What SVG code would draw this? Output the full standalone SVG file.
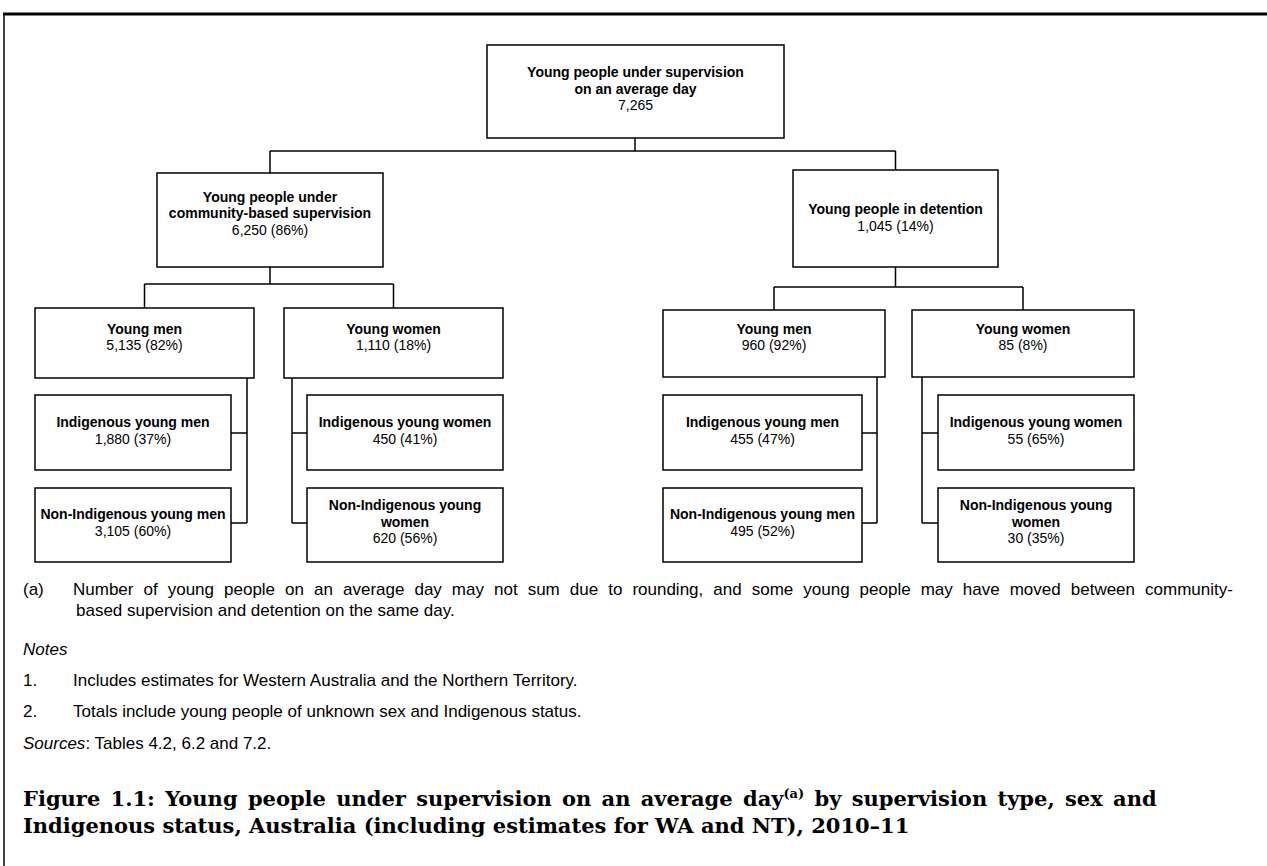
<svg xmlns="http://www.w3.org/2000/svg" width="1267" height="866" viewBox="0 0 1267 866">
<style>
.box{fill:#fff;stroke:#000;stroke-width:1.5}
.t{font-family:"Liberation Sans",Arial,sans-serif;font-size:14px;text-anchor:middle;fill:#000}
.b{font-weight:bold}
.c{fill:none;stroke:#000;stroke-width:1.5}
.n{font-family:"Liberation Sans",Arial,sans-serif;font-size:17px;fill:#000}
.i{font-style:italic}
.cap{font-family:"DejaVu Serif","Liberation Serif",serif;font-weight:bold;font-size:21px;fill:#000}
</style>
<rect width="1267" height="866" fill="#fff"/>
<g id="frame">
<line x1="3" y1="14" x2="1267" y2="14" stroke="#000" stroke-width="3"/>
<line x1="4" y1="13" x2="4" y2="866" stroke="#000" stroke-width="1.5"/>
</g>
<g id="connectors">
<path class="c" d="M635 138V151M270 151H895.5M270 151V173M895.5 151V170"/>
<path class="c" d="M270 267V284M144.5 284H393.5M144.5 284V308M393.5 284V308"/>
<path class="c" d="M895.5 267V287M774 287H1023M774 287V310M1023 287V310"/>
<path class="c" d="M247 378V523M231 433H247M231 523H247"/>
<path class="c" d="M292 378V523M292 433H307M292 523H307"/>
<path class="c" d="M877 377V523M862 433H877M862 523H877"/>
<path class="c" d="M922 377V523M922 433H938M922 523H938"/>
</g>
<g id="n-total">
<rect class="box" x="487" y="45" width="297" height="93"/>
<text class="t b" x="635.5" y="77">Young people under supervision</text>
<text class="t b" x="635.5" y="94">on an average day</text>
<text class="t" x="635.5" y="110">7,265</text>
</g>
<g id="n-community">
<rect class="box" x="157" y="173" width="226" height="94"/>
<text class="t b" x="270" y="202">Young people under</text>
<text class="t b" x="270" y="218">community-based supervision</text>
<text class="t" x="270" y="235">6,250 (86%)</text>
</g>
<g id="n-detention">
<rect class="box" x="793" y="170" width="205" height="97"/>
<text class="t b" x="895.5" y="214">Young people in detention</text>
<text class="t" x="895.5" y="231">1,045 (14%)</text>
</g>
<g id="n-cm">
<rect class="box" x="35" y="308" width="219" height="70"/>
<text class="t b" x="144.5" y="334">Young men</text>
<text class="t" x="144.5" y="350">5,135 (82%)</text>
</g>
<g id="n-cw">
<rect class="box" x="284" y="308" width="219" height="70"/>
<text class="t b" x="393.5" y="334">Young women</text>
<text class="t" x="393.5" y="350">1,110 (18%)</text>
</g>
<g id="n-dm">
<rect class="box" x="663" y="310" width="222" height="67"/>
<text class="t b" x="774" y="334">Young men</text>
<text class="t" x="774" y="350">960 (92%)</text>
</g>
<g id="n-dw">
<rect class="box" x="912" y="310" width="222" height="67"/>
<text class="t b" x="1023" y="334">Young women</text>
<text class="t" x="1023" y="350">85 (8%)</text>
</g>
<g id="n-cm-ind">
<rect class="box" x="35" y="395" width="196" height="75"/>
<text class="t b" x="133" y="427">Indigenous young men</text>
<text class="t" x="133" y="444">1,880 (37%)</text>
</g>
<g id="n-cm-non">
<rect class="box" x="35" y="488" width="196" height="74"/>
<text class="t b" x="133" y="519">Non-Indigenous young men</text>
<text class="t" x="133" y="536">3,105 (60%)</text>
</g>
<g id="n-cw-ind">
<rect class="box" x="307" y="395" width="196" height="75"/>
<text class="t b" x="405" y="427">Indigenous young women</text>
<text class="t" x="405" y="444">450 (41%)</text>
</g>
<g id="n-cw-non">
<rect class="box" x="307" y="488" width="196" height="74"/>
<text class="t b" x="405" y="510">Non-Indigenous young</text>
<text class="t b" x="405" y="527">women</text>
<text class="t" x="405" y="543">620 (56%)</text>
</g>
<g id="n-dm-ind">
<rect class="box" x="663" y="395" width="199" height="75"/>
<text class="t b" x="762.5" y="427">Indigenous young men</text>
<text class="t" x="762.5" y="444">455 (47%)</text>
</g>
<g id="n-dm-non">
<rect class="box" x="663" y="488" width="199" height="74"/>
<text class="t b" x="762.5" y="519">Non-Indigenous young men</text>
<text class="t" x="762.5" y="536">495 (52%)</text>
</g>
<g id="n-dw-ind">
<rect class="box" x="938" y="395" width="196" height="75"/>
<text class="t b" x="1036" y="427">Indigenous young women</text>
<text class="t" x="1036" y="444">55 (65%)</text>
</g>
<g id="n-dw-non">
<rect class="box" x="938" y="488" width="196" height="74"/>
<text class="t b" x="1036" y="510">Non-Indigenous young</text>
<text class="t b" x="1036" y="527">women</text>
<text class="t" x="1036" y="543">30 (35%)</text>
</g>
<g id="notes">
<text class="n" x="23" y="595">(a)</text>
<text class="n" x="73" y="595" word-spacing="5.3">Number of young people on an average day may not sum due to rounding, and some young people may have moved between community-</text>
<text class="n" x="76" y="616">based supervision and detention on the same day.</text>
<text class="n i" x="23" y="655">Notes</text>
<text class="n" x="23" y="686">1.</text>
<text class="n" x="73" y="686">Includes estimates for Western Australia and the Northern Territory.</text>
<text class="n" x="23" y="717">2.</text>
<text class="n" x="73" y="717">Totals include young people of unknown sex and Indigenous status.</text>
<text class="n" x="23" y="749"><tspan class="i">Sources</tspan>: Tables 4.2, 6.2 and 7.2.</text>
</g>
<g id="caption">
<text class="cap" x="23" y="806" word-spacing="3">Figure 1.1: Young people under supervision on an average day<tspan font-size="13" dy="-8">(a)</tspan><tspan dy="8"> by supervision type, sex and</tspan></text>
<text class="cap" x="23" y="833">Indigenous status, Australia (including estimates for WA and NT), 2010–11</text>
</g>
</svg>
